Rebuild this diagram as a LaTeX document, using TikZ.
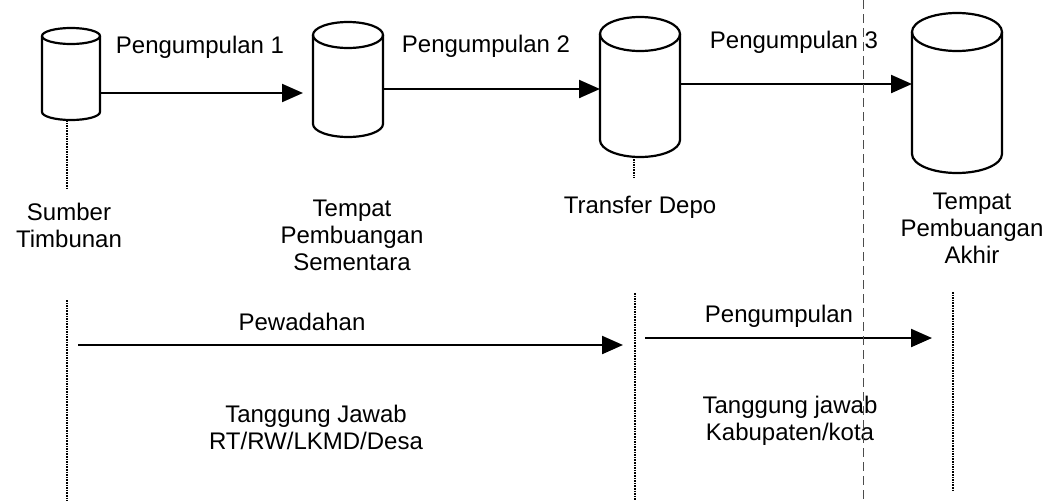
\documentclass[tikz,border=0pt]{standalone}
\usepackage{fontspec}
\setmainfont{Liberation Sans}
\usetikzlibrary{arrows.meta,calc}
\begin{document}
\begin{tikzpicture}[x=1pt,y=1pt,
 cylbox/.style={rectangle,inner sep=0pt,outer sep=0pt},
 cylline/.style={line width=2.2pt,line join=round},
 arr/.style={line width=2.2pt,-{Triangle[length=21pt,width=18pt]}},
 dots/.style={line width=1.6pt,dash pattern=on 1.6pt off 1pt},
 fold/.style={line width=0.9pt,black!70,dash pattern=on 9pt off 5pt},
 lbl/.style={inner sep=0pt,align=center,font=\fontsize{24}{27}\selectfont}]
\useasboundingbox (0,0) rectangle (1050,-501);
\fill[white] (0,0) rectangle (1050,-501);
% cylinders (named boxes + outlines)
\node[cylbox,minimum width=58pt,minimum height=92pt] (c1) at (71,-74) {};
\draw[cylline] (42,-36) -- (42,-112) arc[start angle=180,end angle=360,x radius=29pt,y radius=8pt] -- (100,-36);
\draw[cylline] (71,-36) ellipse[x radius=29pt,y radius=8pt];
\node[cylbox,minimum width=70pt,minimum height=115pt] (c2) at (348,-79.5) {};
\draw[cylline] (313,-35) -- (313,-124) arc[start angle=180,end angle=360,x radius=35pt,y radius=13pt] -- (383,-35);
\draw[cylline] (348,-35) ellipse[x radius=35pt,y radius=13pt];
\node[cylbox,minimum width=80pt,minimum height=140pt] (c3) at (640,-87) {};
\draw[cylline] (600,-34) -- (600,-140) arc[start angle=180,end angle=360,x radius=40pt,y radius=17pt] -- (680,-34);
\draw[cylline] (640,-34) ellipse[x radius=40pt,y radius=17pt];
\node[cylbox,minimum width=90pt,minimum height=160pt] (c4) at (957,-93) {};
\draw[cylline] (912,-32) -- (912,-154) arc[start angle=180,end angle=360,x radius=45pt,y radius=19pt] -- (1002,-32);
\draw[cylline] (957,-32) ellipse[x radius=45pt,y radius=19pt];
% rows
\coordinate (r1) at (0,-93);
\coordinate (r2) at (0,-89);
\coordinate (r3) at (0,-84);
\coordinate (r4) at (0,-345);
\coordinate (r5) at (0,-338);
% top arrows
\draw[arr,shorten >=10pt] (c1.east |- r1) -- (c2.west |- r1);
\draw[arr] (c2.east |- r2) -- (c3.west |- r2);
\draw[arr] (c3.east |- r3) -- (c4.west |- r3);
% short dotted stems
\coordinate (s1) at (67,-190);
\coordinate (s3) at (634,-178);
\draw[dots] (c1.south -| s1) -- (s1);
\draw[dots] ([yshift=-2pt]c3.south -| s3) -- (s3);
% bottom dotted lines
\coordinate (t1) at (67,-300); \coordinate (b1) at (67,-501);
\coordinate (t2) at (635,-293); \coordinate (b2) at (635,-501);
\coordinate (t3) at (953,-292); \coordinate (b3) at (953,-490);
\draw[dots] (t1) -- (b1);
\draw[dots] (t2) -- (b2);
\draw[dots] (t3) -- (b3);
% bottom arrows
\draw[arr,shorten <=11pt,shorten >=12pt] (t1 |- r4) -- (t2 |- r4);
\draw[arr,shorten <=10pt,shorten >=21pt] (t2 |- r5) -- (t3 |- r5);
% labels
\node[lbl] (l1) at (200,-47) {Pengumpulan 1};
\node[lbl] (l2) at (486,-46) {Pengumpulan 2};
\node[lbl] (l3) at (794,-42) {Pengumpulan 3};
\node[lbl] (n1) at (69,-225) {Sumber\\Timbunan};
\node[lbl] (n2) at (352,-235) {Tempat\\Pembuangan\\Sementara};
\node[lbl] (n3) at (640,-207) {Transfer Depo};
\node[lbl] (n4) at (972,-228) {Tempat\\Pembuangan\\Akhir};
\node[lbl] (l4) at (302,-322) {Pewadahan};
\node[lbl] (l5) at (779,-316) {Pengumpulan};
\node[lbl] (q1) at (316,-427) {Tanggung Jawab\\RT/RW/LKMD/Desa};
\node[lbl] (q2) at (790,-421) {Tanggung jawab\\Kabupaten/kota};
% fold line across the page
\coordinate (f1) at (863,0);
\coordinate (f2) at (863,-501);
\draw[fold] (f1) -- (f2);
\end{tikzpicture}
\end{document}
